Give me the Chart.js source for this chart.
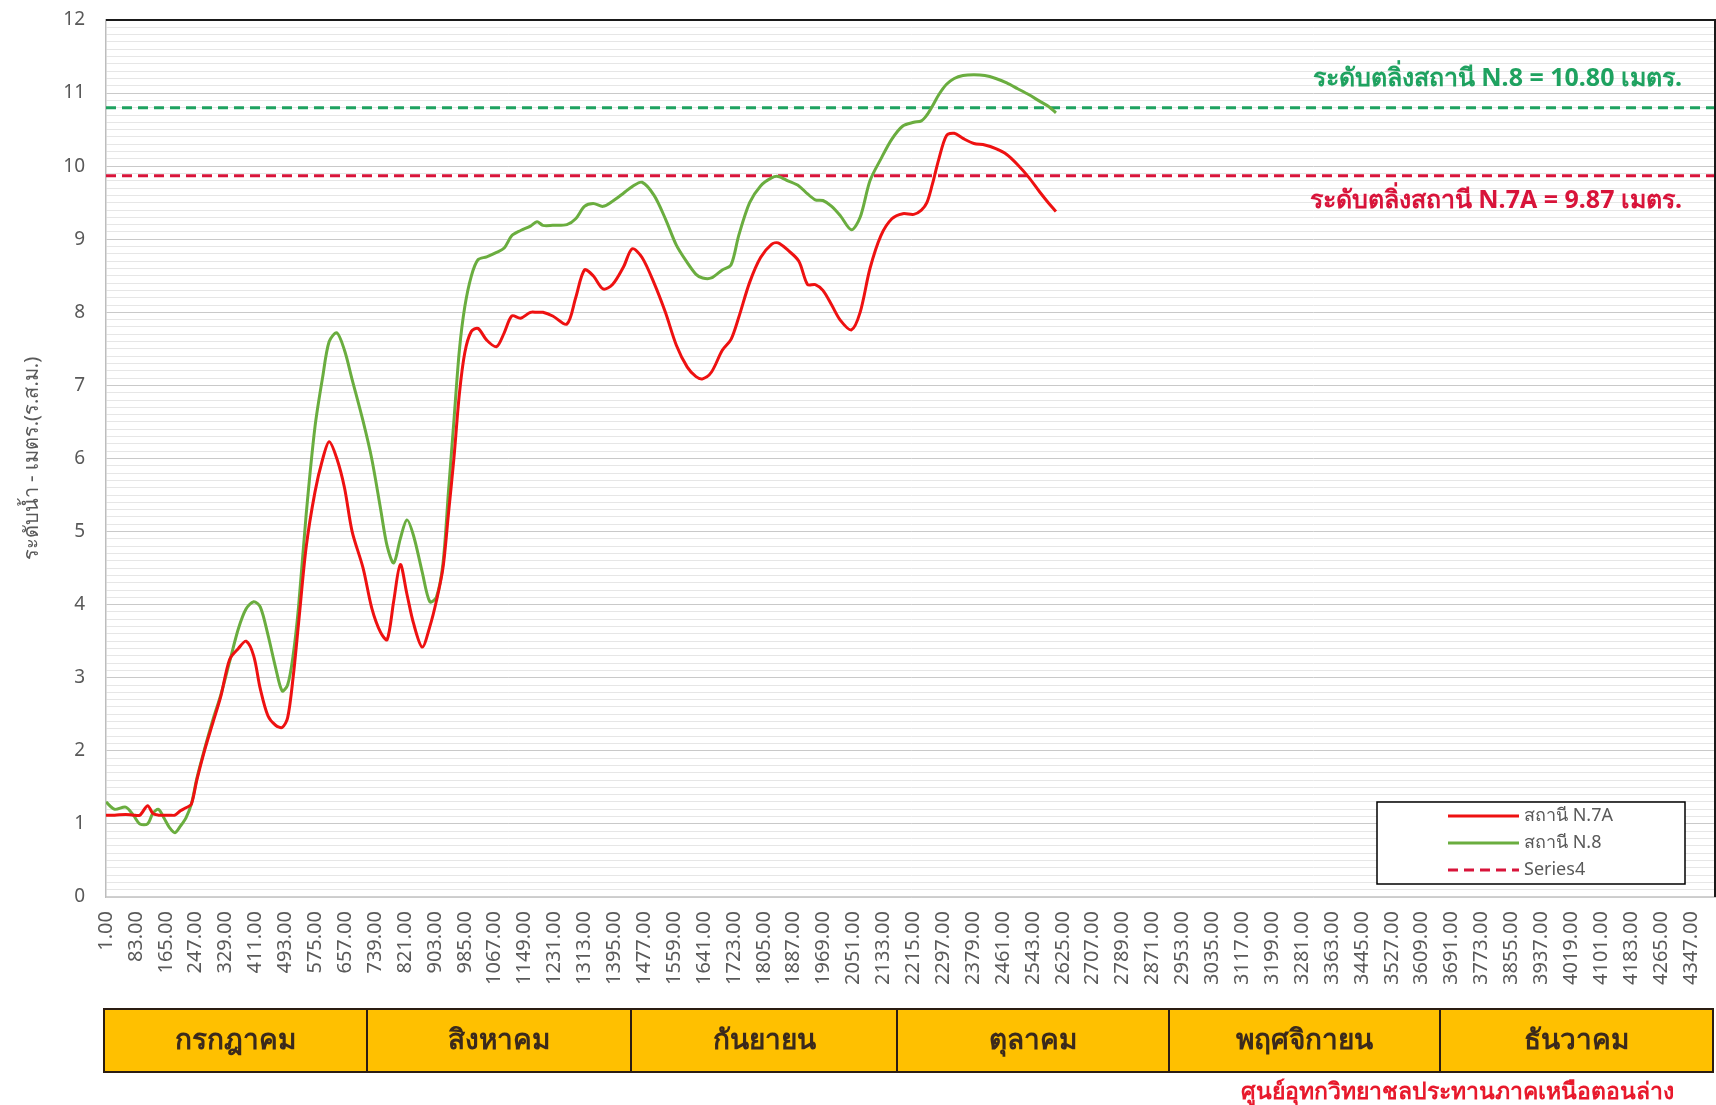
<!DOCTYPE html>
<html lang="th">
<head>
<meta charset="utf-8">
<title>ระดับน้ำ สถานี N.7A และ N.8</title>
<script src="https://cdn.jsdelivr.net/npm/chart.js@4.4.1/dist/chart.umd.min.js"></script>
<style>
  html, body { margin: 0; padding: 0; background: #fff; }
  canvas { display: block; }
</style>
</head>
<body>
<canvas id="waterChart" width="1716" height="1105"></canvas>
<script>
// hour index (x) of each sampled reading
const hours = [1, 25, 55, 76, 94, 115, 130, 145, 160, 175, 190, 205, 220, 235, 250, 271, 295, 316, 340, 364,
  385, 406, 424, 445, 466, 484, 499, 514, 529, 550, 574, 595, 613, 634, 655, 676, 706, 730, 754, 772,
  790, 808, 826, 844, 868, 889, 907, 925, 940, 955, 970, 985, 1003, 1021, 1045, 1072, 1093, 1114, 1138, 1165,
  1183, 1199, 1226, 1265, 1289, 1313, 1337, 1364, 1390, 1420, 1444, 1471, 1504, 1535, 1565, 1595, 1619, 1637, 1661, 1691,
  1715, 1736, 1766, 1796, 1826, 1844, 1871, 1901, 1925, 1946, 1967, 1991, 2015, 2045, 2069, 2096, 2126, 2156, 2186, 2216,
  2237, 2252, 2267, 2285, 2306, 2327, 2351, 2381, 2411, 2441, 2471, 2501, 2531, 2561, 2585, 2606];

// สถานี N.7A
const n7a = [1.12, 1.12, 1.13, 1.12, 1.12, 1.25, 1.14, 1.12, 1.12, 1.12, 1.12, 1.18, 1.22, 1.27, 1.60, 2.00, 2.40, 2.75, 3.25, 3.40,
  3.50, 3.30, 2.85, 2.48, 2.35, 2.32, 2.45, 3.00, 3.74, 4.79, 5.54, 5.99, 6.23, 6.00, 5.60, 5.00, 4.50, 3.95, 3.62, 3.52,
  4.05, 4.55, 4.15, 3.75, 3.42, 3.70, 4.05, 4.50, 5.24, 6.00, 6.88, 7.45, 7.74, 7.78, 7.62, 7.53, 7.72, 7.95, 7.92, 8.00,
  8.00, 8.00, 7.95, 7.84, 8.20, 8.58, 8.50, 8.32, 8.38, 8.62, 8.87, 8.75, 8.40, 8.00, 7.55, 7.25, 7.12, 7.09, 7.18, 7.48,
  7.63, 7.93, 8.41, 8.75, 8.93, 8.95, 8.85, 8.70, 8.38, 8.38, 8.30, 8.10, 7.89, 7.76, 8.00, 8.60, 9.05, 9.28, 9.35, 9.34,
  9.40, 9.50, 9.75, 10.10, 10.42, 10.45, 10.38, 10.31, 10.29, 10.24, 10.16, 10.02, 9.85, 9.65, 9.50, 9.38];

// สถานี N.8
const n8 = [1.30, 1.20, 1.23, 1.12, 1.00, 1.00, 1.15, 1.20, 1.08, 0.95, 0.88, 0.97, 1.08, 1.27, 1.62, 2.02, 2.44, 2.77, 3.22, 3.67,
  3.94, 4.04, 3.97, 3.59, 3.14, 2.82, 2.90, 3.30, 3.97, 5.24, 6.43, 7.11, 7.60, 7.72, 7.48, 7.08, 6.51, 5.99, 5.31, 4.80,
  4.57, 4.90, 5.16, 4.95, 4.45, 4.04, 4.10, 4.56, 5.54, 6.51, 7.48, 8.08, 8.50, 8.72, 8.76, 8.82, 8.88, 9.05, 9.12, 9.18,
  9.24, 9.19, 9.19, 9.20, 9.28, 9.45, 9.49, 9.45, 9.52, 9.63, 9.72, 9.78, 9.60, 9.28, 8.92, 8.68, 8.52, 8.47, 8.47, 8.58,
  8.65, 9.05, 9.50, 9.73, 9.84, 9.86, 9.80, 9.73, 9.62, 9.54, 9.53, 9.45, 9.32, 9.13, 9.30, 9.80, 10.10, 10.37, 10.55, 10.60,
  10.62, 10.70, 10.82, 10.98, 11.12, 11.20, 11.24, 11.25, 11.24, 11.20, 11.14, 11.06, 10.98, 10.89, 10.82, 10.73];

// bank levels (ระดับตลิ่ง)
const bankN8 = 10.80;
const bankN7A = 9.87;

const xTickValues = [1, 83, 165, 247, 329, 411, 493, 575, 657, 739, 821, 903, 985, 1067, 1149, 1231, 1313, 1395,
  1477, 1559, 1641, 1723, 1805, 1887, 1969, 2051, 2133, 2215, 2297, 2379, 2461, 2543, 2625, 2707, 2789, 2871,
  2953, 3035, 3117, 3199, 3281, 3363, 3445, 3527, 3609, 3691, 3773, 3855, 3937, 4019, 4101, 4183, 4265, 4347];
const xMin = 1;
const xMax = 4416;

const months = ['กรกฎาคม', 'สิงหาคม', 'กันยายน', 'ตุลาคม', 'พฤศจิกายน', 'ธันวาคม'];

const FONT = "Tahoma, 'Noto Sans', 'DejaVu Sans', sans-serif";
const RED = '#ee1111';
const GREEN = '#6aad3f';
const RED_DASH = '#d8143a';
const GREEN_DASH = '#1fa260';

function toPoints(xs, ys) {
    return xs.map((x, i) => ({ x: x, y: ys[i] }));
}

// frame, bank labels, legend box, month table, credit
const decorPlugin = {
    id: 'decor',
    afterDraw(chart) {
        const { ctx, chartArea: a, scales } = chart;
        ctx.save();

        // top and right frame
        ctx.strokeStyle = '#1a1a1a';
        ctx.lineWidth = 2;
        ctx.beginPath();
        ctx.moveTo(a.left, a.top);
        ctx.lineTo(a.right - 1, a.top);
        ctx.lineTo(a.right - 1, a.bottom);
        ctx.stroke();

        // bank level labels
        ctx.font = 'bold 25px ' + FONT;
        ctx.textAlign = 'right';
        ctx.textBaseline = 'middle';
        ctx.fillStyle = GREEN_DASH;
        ctx.fillText('ระดับตลิ่งสถานี N.8 = ' + bankN8.toFixed(2) + ' เมตร.', a.right - 34, scales.y.getPixelForValue(bankN8) - 29);
        ctx.fillStyle = RED_DASH;
        ctx.fillText('ระดับตลิ่งสถานี N.7A = ' + bankN7A.toFixed(2) + ' เมตร.', a.right - 34, scales.y.getPixelForValue(bankN7A) + 25);

        // legend box
        const lx = 1377, ly = 802, lw = 308, lh = 82;
        ctx.fillStyle = '#fff';
        ctx.fillRect(lx, ly, lw, lh);
        ctx.strokeStyle = '#000';
        ctx.lineWidth = 1.5;
        ctx.strokeRect(lx, ly, lw, lh);
        const items = chart.data.datasets.filter(d => d.inLegend);
        ctx.font = '18px ' + FONT;
        ctx.textAlign = 'left';
        items.forEach((d, i) => {
            const yy = ly + 14 + i * 27;
            ctx.strokeStyle = d.borderColor;
            ctx.lineWidth = 3;
            ctx.setLineDash(d.borderDash || []);
            ctx.beginPath();
            ctx.moveTo(lx + 71, yy);
            ctx.lineTo(lx + 142, yy);
            ctx.stroke();
            ctx.setLineDash([]);
            ctx.fillStyle = '#595959';
            ctx.fillText(d.label, lx + 147, yy);
        });

        // month table
        const edges = [104, 367, 631, 897, 1169, 1440, 1713];
        const ty = 1009, th = 63;
        ctx.font = 'bold 28px ' + FONT;
        ctx.textAlign = 'center';
        months.forEach((m, i) => {
            ctx.fillStyle = '#ffc000';
            ctx.fillRect(edges[i], ty, edges[i + 1] - edges[i], th);
            ctx.strokeStyle = '#2b1d12';
            ctx.lineWidth = 2;
            ctx.strokeRect(edges[i], ty, edges[i + 1] - edges[i], th);
            ctx.fillStyle = '#3b2a1c';
            ctx.fillText(m, (edges[i] + edges[i + 1]) / 2, ty + th / 2 + 1);
        });

        // credit
        ctx.font = 'bold 23px ' + FONT;
        ctx.textAlign = 'right';
        ctx.fillStyle = '#e8192c';
        ctx.fillText('ศูนย์อุทกวิทยาชลประทานภาคเหนือตอนล่าง', 1674, 1092);

        ctx.restore();
    }
};

const ctx = document.getElementById('waterChart').getContext('2d');
new Chart(ctx, {
    type: 'line',
    data: {
        datasets: [
            {
                label: 'สถานี N.7A',
                data: toPoints(hours, n7a),
                borderColor: RED,
                borderWidth: 3,
                tension: 0.3,
                pointRadius: 0,
                inLegend: true,
                order: 1
            },
            {
                label: 'สถานี N.8',
                data: toPoints(hours, n8),
                borderColor: GREEN,
                borderWidth: 3,
                tension: 0.3,
                pointRadius: 0,
                inLegend: true,
                order: 2
            },
            {
                label: 'Series4',
                data: [{ x: xMin, y: bankN7A }, { x: xMax, y: bankN7A }],
                borderColor: RED_DASH,
                borderWidth: 3,
                borderDash: [10, 6],
                pointRadius: 0,
                inLegend: true,
                order: 3
            },
            {
                label: 'Series5',
                data: [{ x: xMin, y: bankN8 }, { x: xMax, y: bankN8 }],
                borderColor: GREEN_DASH,
                borderWidth: 3,
                borderDash: [10, 6],
                pointRadius: 0,
                inLegend: false,
                order: 4
            }
        ]
    },
    options: {
        responsive: false,
        animation: false,
        events: [],
        layout: { padding: { top: 20, right: 0, left: 0, bottom: 0 } },
        plugins: {
            legend: { display: false },
            tooltip: { enabled: false }
        },
        scales: {
            x: {
                type: 'linear',
                min: xMin,
                max: xMax,
                afterBuildTicks: axis => {
                    axis.ticks = xTickValues.map(v => ({ value: v }));
                },
                afterFit: axis => {
                    axis.height = 208;
                    axis.paddingLeft = 0;
                    axis.paddingRight = 0;
                },
                grid: { display: false, drawTicks: false },
                border: { display: true, color: '#d0d0d0', width: 1.5 },
                ticks: {
                    autoSkip: false,
                    minRotation: 90,
                    maxRotation: 90,
                    padding: 14,
                    color: '#595959',
                    font: { family: FONT, size: 20 },
                    callback: v => Number(v).toFixed(2)
                }
            },
            y: {
                min: 0,
                max: 12,
                afterFit: axis => {
                    axis.width = 106;
                    axis.paddingTop = 0;
                    axis.paddingBottom = 0;
                },
                grid: {
                    drawTicks: false,
                    lineWidth: 1,
                    color: c => (Math.abs(c.tick.value - Math.round(c.tick.value)) < 1e-6 ? '#c9c9c9' : '#e6e6e6')
                },
                border: { display: true, color: '#bdbdbd', width: 1.5 },
                title: {
                    display: true,
                    text: 'ระดับน้ำ - เมตร.(ร.ส.ม.)',
                    color: '#595959',
                    font: { family: FONT, size: 20 },
                    padding: { top: 20, bottom: 0 }
                },
                ticks: {
                    stepSize: 0.1,
                    maxTicksLimit: 200,
                    autoSkip: false,
                    padding: 21,
                    color: '#595959',
                    font: { family: FONT, size: 19 },
                    callback: v => (Math.abs(v - Math.round(v)) < 1e-6 ? String(Math.round(v)) : '')
                }
            }
        }
    },
    plugins: [decorPlugin]
});
</script>
</body>
</html>
